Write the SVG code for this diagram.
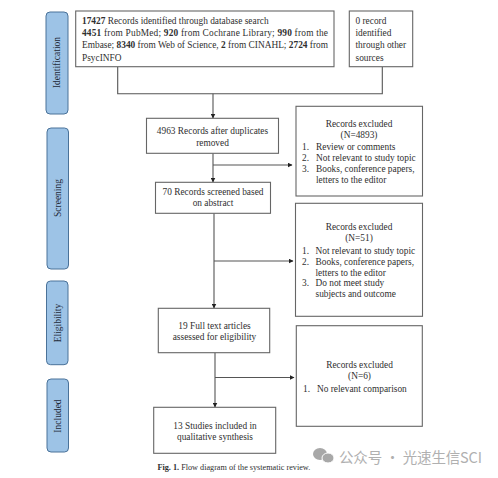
<svg xmlns="http://www.w3.org/2000/svg" width="498" height="478" viewBox="0 0 498 478">
<style>
text{font-family:"Liberation Serif","Times New Roman",serif;font-size:9.35px;fill:#2f2f2f}
.m{text-anchor:middle}
.box{fill:#fff;stroke:#666;stroke-width:1.1}
.stage{fill:#9dc3e6;stroke:#4a7299;stroke-width:1}
.st{font-size:9.5px;text-anchor:middle;fill:#1f2a38}
.c{fill:none;stroke:#555;stroke-width:1.1}
.wm{font-family:"Noto Sans CJK SC","Noto Sans",sans-serif;font-size:14.5px;fill:#b0b0b0}
</style>
<defs><marker id="a" markerWidth="5" markerHeight="5" refX="4.5" refY="2.5" orient="auto" markerUnits="userSpaceOnUse"><path d="M0 0L5 2.5L0 5Z" fill="#222"/></marker></defs>
<rect width="498" height="478" fill="#fff"/>
<g id="connectors">
<path class="c" d="M117.7 66.7V93.7H382.3V66.7"/>
<path class="c" d="M213 93.7V118" marker-end="url(#a)"/>
<path class="c" d="M213 153.3V182" marker-end="url(#a)"/>
<path class="c" d="M213 165H292" marker-end="url(#a)"/>
<path class="c" d="M214 213.3V308" marker-end="url(#a)"/>
<path class="c" d="M214 261H293" marker-end="url(#a)"/>
<path class="c" d="M215 352.7V407" marker-end="url(#a)"/>
<path class="c" d="M215 377.5H294" marker-end="url(#a)"/>
</g>
<g id="stage-identification"><rect class="stage" x="46" y="12" width="22" height="102" rx="4"/><text class="st" transform="translate(60 62.5) rotate(-90)">Identification</text></g>
<g id="stage-screening"><rect class="stage" x="47" y="128" width="21.5" height="141" rx="4"/><text class="st" transform="translate(61 198) rotate(-90)">Screening</text></g>
<g id="stage-eligibility"><rect class="stage" x="46.5" y="281" width="21.5" height="83.7" rx="4"/><text class="st" transform="translate(61 323) rotate(-90)">Eligibility</text></g>
<g id="stage-included"><rect class="stage" x="47" y="379" width="21.5" height="73" rx="4"/><text class="st" transform="translate(61 416) rotate(-90)">Included</text></g>
<g id="node-database">
<rect class="box" x="75.7" y="11" width="258.3" height="55.7"/>
<text x="82" y="24"><tspan font-weight="bold">17427</tspan> Records identified through database search</text>
<text x="82" y="36.3" textLength="246" lengthAdjust="spacing"><tspan font-weight="bold">4451</tspan> from PubMed; <tspan font-weight="bold">920</tspan> from Cochrane Library; <tspan font-weight="bold">990</tspan> from the</text>
<text x="82" y="48.3" textLength="246" lengthAdjust="spacing">Embase; <tspan font-weight="bold">8340</tspan> from Web of Science, <tspan font-weight="bold">2</tspan> from CINAHL; <tspan font-weight="bold">2724</tspan> from</text>
<text x="82" y="61">PsycINFO</text>
</g>
<g id="node-other">
<rect class="box" x="349.3" y="11" width="63.4" height="55.7"/>
<text x="355.5" y="24">0 record</text><text x="355.5" y="36.3">identified</text><text x="355.5" y="48.3">through other</text><text x="355.5" y="61">sources</text>
</g>
<g id="node-duplicates">
<rect class="box" x="146.5" y="118.3" width="132" height="35"/>
<text class="m" x="212.5" y="133.5">4963 Records after duplicates</text><text class="m" x="212.5" y="145.5">removed</text>
</g>
<g id="node-excluded-1">
<rect class="box" x="296" y="106.3" width="126.5" height="89.7"/>
<text class="m" x="359" y="126.5">Records excluded</text><text class="m" x="359" y="137.5">(N=4893)</text>
<text x="302" y="150">1.</text><text x="316" y="150">Review or comments</text>
<text x="302" y="161">2.</text><text x="316" y="161">Not relevant to study topic</text>
<text x="302" y="172">3.</text><text x="316" y="172">Books, conference papers,</text>
<text x="316" y="183">letters to the editor</text>
</g>
<g id="node-screened">
<rect class="box" x="155.5" y="182.3" width="115" height="31"/>
<text class="m" x="213" y="194.5">70 Records screened based</text><text class="m" x="213" y="205.5">on abstract</text>
</g>
<g id="node-excluded-2">
<rect class="box" x="295.5" y="203.3" width="127" height="113"/>
<text class="m" x="359" y="230">Records excluded</text><text class="m" x="359" y="241">(N=51)</text>
<text x="302" y="254">1.</text><text x="315.5" y="254">Not relevant to study topic</text>
<text x="302" y="265">2.</text><text x="315.5" y="265">Books, conference papers,</text>
<text x="315.5" y="275.5">letters to the editor</text>
<text x="302" y="286">3.</text><text x="315.5" y="286">Do not meet study</text>
<text x="315.5" y="297">subjects and outcome</text>
</g>
<g id="node-fulltext">
<rect class="box" x="158.3" y="308.3" width="111.4" height="44.4"/>
<text class="m" x="214.5" y="329">19 Full text articles</text><text class="m" x="214.5" y="339.5">assessed for eligibility</text>
</g>
<g id="node-excluded-3">
<rect class="box" x="296.3" y="325.7" width="126" height="100.6"/>
<text class="m" x="359.5" y="368">Records excluded</text><text class="m" x="359.5" y="379">(N=6)</text>
<text x="303" y="392">1.</text><text x="317" y="392">No relevant comparison</text>
</g>
<g id="node-included">
<rect class="box" x="153.7" y="407.3" width="122" height="46"/>
<text class="m" x="215" y="429">13 Studies included in</text><text class="m" x="215" y="439.5">qualitative synthesis</text>
</g>
<text x="157.5" y="470" style="font-size:8.2px"><tspan font-weight="bold">Fig. 1.</tspan> Flow diagram of the systematic review.</text>
<g id="watermark">
<ellipse cx="320" cy="454" rx="7" ry="6" fill="#a8a8a8"/>
<ellipse cx="328" cy="458" rx="6" ry="5" fill="#a8a8a8" stroke="#fff" stroke-width="1"/>
<text class="wm" x="339" y="463" textLength="143" lengthAdjust="spacing">公众号 · 光速生信SCI</text>
</g>
</svg>
